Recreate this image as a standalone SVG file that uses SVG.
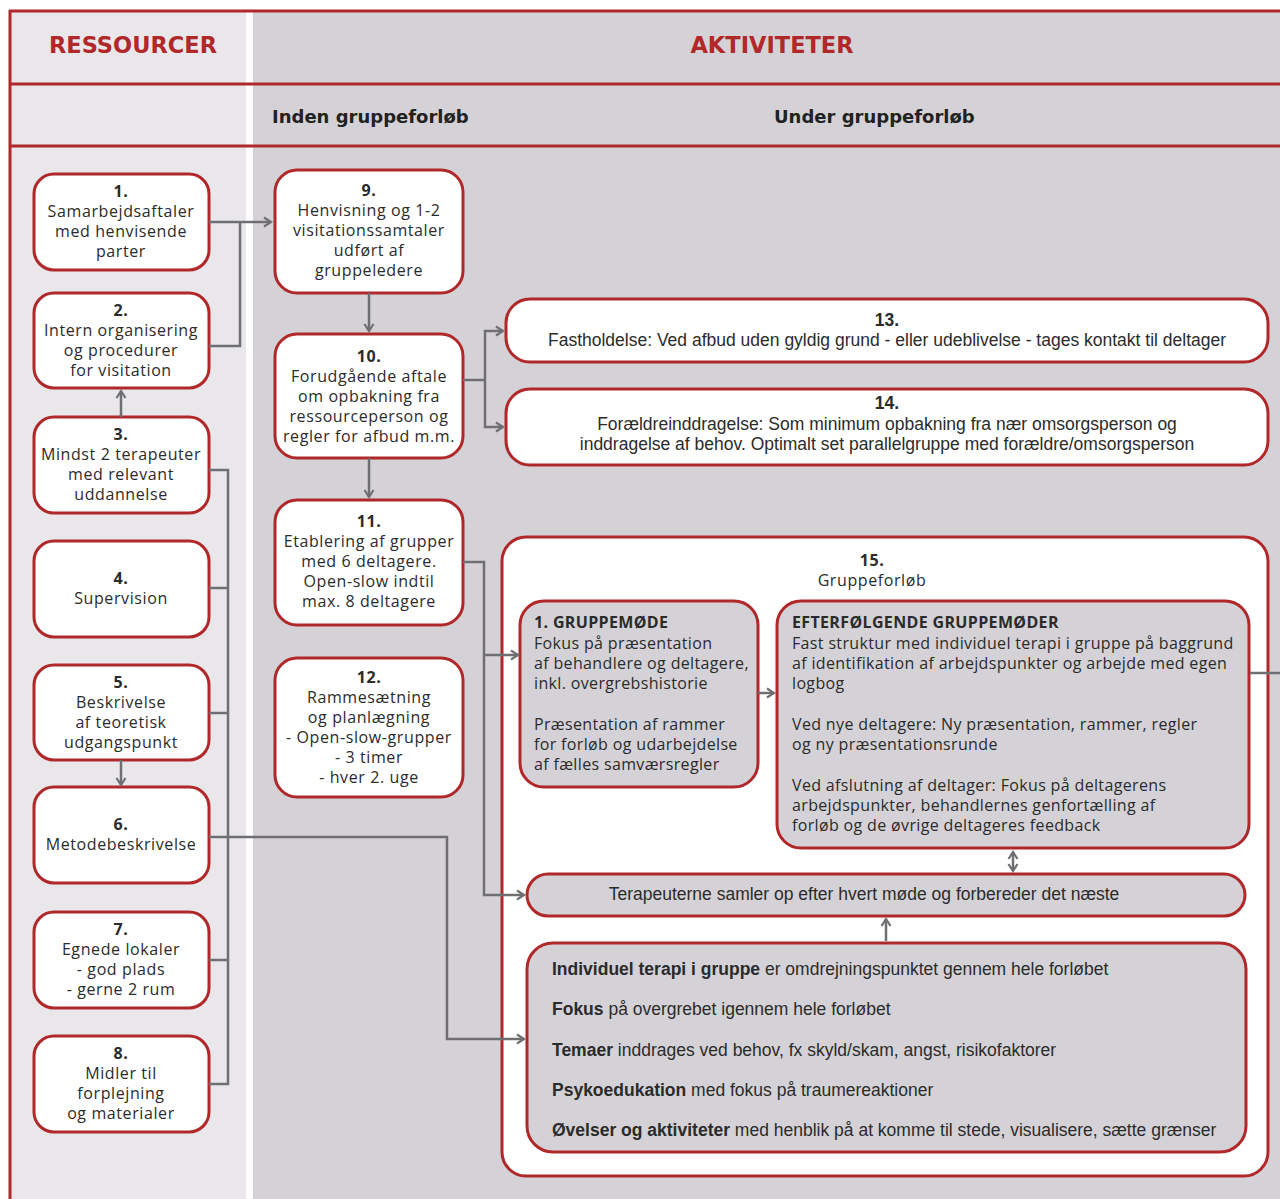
<svg xmlns="http://www.w3.org/2000/svg" width="1280" height="1199" viewBox="0 0 1280 1199">
<style>
.box{fill:#ffffff;stroke:#b0282a;stroke-width:3}
.gbox{fill:#d4d2d6;stroke:#b0282a;stroke-width:3}
.t{font-family:"Open Sans","DejaVu Sans",sans-serif;font-size:16px;letter-spacing:0.6px;fill:#2b2b2b;text-anchor:middle}
.tl{font-family:"Open Sans","DejaVu Sans",sans-serif;font-size:16px;letter-spacing:0.35px;fill:#2b2b2b}
.c{font-family:"Liberation Sans",Arial,sans-serif;font-size:17.5px;fill:#2b2b2b}
.cm{font-family:"Liberation Sans",Arial,sans-serif;font-size:17.5px;fill:#2b2b2b;text-anchor:middle}
.b{font-weight:bold}
.hd{font-family:"DejaVu Sans",sans-serif;font-weight:bold;font-size:22.5px;fill:#b0282a;text-anchor:middle}
.sh{font-family:"DejaVu Sans",sans-serif;font-weight:bold;font-size:18px;fill:#222}
.con{fill:none;stroke:#6f6f73;stroke-width:2.5}
.line{stroke:#b0282a;stroke-width:3}
</style>
<defs>
<marker id="arr" markerUnits="userSpaceOnUse" markerWidth="10" markerHeight="12" refX="8" refY="6" orient="auto-start-reverse">
<path d="M1,1.5 L8,6 L1,10.5" fill="none" stroke="#6f6f73" stroke-width="2.2"/>
</marker>
</defs>

<g id="background">
<rect x="0" y="0" width="1280" height="1199" fill="#ffffff"/>
<rect x="9" y="10" width="237" height="1189" fill="#e9e7ea"/>
<rect x="253" y="10" width="1027" height="1189" fill="#d4d2d6"/>
<line class="line" x1="9" y1="11" x2="1280" y2="11"/>
<line class="line" x1="9" y1="84" x2="1280" y2="84"/>
<line class="line" x1="9" y1="146" x2="1280" y2="146"/>
<line class="line" x1="10" y1="10" x2="10" y2="1199"/>
<text class="hd" x="133" y="53">RESSOURCER</text>
<text class="hd" x="772" y="53">AKTIVITETER</text>
<text class="sh" x="272" y="123">Inden gruppeforløb</text>
<text class="sh" x="774" y="123">Under gruppeforløb</text>
</g>

<g id="n1"><rect class="box" x="34" y="174" width="175" height="96" rx="20"/>
<text class="t"><tspan class="b" x="121" y="197">1.</tspan><tspan x="121" y="217">Samarbejdsaftaler</tspan><tspan x="121" y="237">med henvisende</tspan><tspan x="121" y="257">parter</tspan></text></g>

<g id="n2"><rect class="box" x="34" y="293" width="175" height="95" rx="20"/>
<text class="t"><tspan class="b" x="121" y="316">2.</tspan><tspan x="121" y="336">Intern organisering</tspan><tspan x="121" y="356">og procedurer</tspan><tspan x="121" y="376">for visitation</tspan></text></g>

<g id="n3"><rect class="box" x="34" y="417" width="175" height="96" rx="20"/>
<text class="t"><tspan class="b" x="121" y="440">3.</tspan><tspan x="121" y="460">Mindst 2 terapeuter</tspan><tspan x="121" y="480">med relevant</tspan><tspan x="121" y="500">uddannelse</tspan></text></g>

<g id="n4"><rect class="box" x="34" y="541" width="175" height="96" rx="20"/>
<text class="t"><tspan class="b" x="121" y="584">4.</tspan><tspan x="121" y="604">Supervision</tspan></text></g>

<g id="n5"><rect class="box" x="34" y="665" width="175" height="95" rx="20"/>
<text class="t"><tspan class="b" x="121" y="688">5.</tspan><tspan x="121" y="708">Beskrivelse</tspan><tspan x="121" y="728">af teoretisk</tspan><tspan x="121" y="748">udgangspunkt</tspan></text></g>

<g id="n6"><rect class="box" x="34" y="787" width="175" height="96" rx="20"/>
<text class="t"><tspan class="b" x="121" y="830">6.</tspan><tspan x="121" y="850">Metodebeskrivelse</tspan></text></g>

<g id="n7"><rect class="box" x="34" y="912" width="175" height="96" rx="20"/>
<text class="t"><tspan class="b" x="121" y="935">7.</tspan><tspan x="121" y="955">Egnede lokaler</tspan><tspan x="121" y="975">- god plads</tspan><tspan x="121" y="995">- gerne 2 rum</tspan></text></g>

<g id="n8"><rect class="box" x="34" y="1036" width="175" height="96" rx="20"/>
<text class="t"><tspan class="b" x="121" y="1059">8.</tspan><tspan x="121" y="1079">Midler til</tspan><tspan x="121" y="1099">forplejning</tspan><tspan x="121" y="1119">og materialer</tspan></text></g>

<g id="n9"><rect class="box" x="275" y="170" width="188" height="123" rx="22"/>
<text class="t"><tspan class="b" x="369" y="196">9.</tspan><tspan x="369" y="216">Henvisning og 1-2</tspan><tspan x="369" y="236">visitationssamtaler</tspan><tspan x="369" y="256">udført af</tspan><tspan x="369" y="276">gruppeledere</tspan></text></g>

<g id="n10"><rect class="box" x="275" y="334" width="188" height="124" rx="22"/>
<text class="t"><tspan class="b" x="369" y="362">10.</tspan><tspan x="369" y="382">Forudgående aftale</tspan><tspan x="369" y="402">om opbakning fra</tspan><tspan x="369" y="422">ressourceperson og</tspan><tspan x="369" y="442">regler for afbud m.m.</tspan></text></g>

<g id="n11"><rect class="box" x="275" y="500" width="188" height="125" rx="22"/>
<text class="t"><tspan class="b" x="369" y="527">11.</tspan><tspan x="369" y="547">Etablering af grupper</tspan><tspan x="369" y="567">med 6 deltagere.</tspan><tspan x="369" y="587">Open-slow indtil</tspan><tspan x="369" y="607">max. 8 deltagere</tspan></text></g>

<g id="n12"><rect class="box" x="275" y="658" width="188" height="139" rx="22"/>
<text class="t"><tspan class="b" x="369" y="683">12.</tspan><tspan x="369" y="703">Rammesætning</tspan><tspan x="369" y="723">og planlægning</tspan><tspan x="369" y="743">- Open-slow-grupper</tspan><tspan x="369" y="763">- 3 timer</tspan><tspan x="369" y="783">- hver 2. uge</tspan></text></g>

<g id="n13"><rect class="box" x="506" y="299" width="762" height="63" rx="24"/>
<text class="cm"><tspan class="b" x="887" y="326">13.</tspan><tspan x="887" y="346">Fastholdelse: Ved afbud uden gyldig grund - eller udeblivelse - tages kontakt til deltager</tspan></text></g>

<g id="n14"><rect class="box" x="506" y="389" width="762" height="76" rx="24"/>
<text class="cm"><tspan class="b" x="887" y="409">14.</tspan><tspan x="887" y="430">Forældreinddragelse: Som minimum opbakning fra nær omsorgsperson og</tspan><tspan x="887" y="450">inddragelse af behov. Optimalt set parallelgruppe med forældre/omsorgsperson</tspan></text></g>

<g id="n15"><rect class="box" x="502" y="537" width="766" height="639" rx="24"/>
<text class="t"><tspan class="b" x="872" y="566">15.</tspan><tspan x="872" y="586">Gruppeforløb</tspan></text></g>

<g id="n15a"><rect class="gbox" x="520" y="601" width="238" height="186" rx="24"/>
<text class="tl"><tspan class="b" x="534" y="628">1. GRUPPEMØDE</tspan><tspan x="534" y="649">Fokus på præsentation</tspan><tspan x="534" y="669">af behandlere og deltagere,</tspan><tspan x="534" y="689">inkl. overgrebshistorie</tspan><tspan x="534" y="730">Præsentation af rammer</tspan><tspan x="534" y="750">for forløb og udarbejdelse</tspan><tspan x="534" y="770">af fælles samværsregler</tspan></text></g>

<g id="n15b"><rect class="gbox" x="777" y="601" width="472" height="247" rx="24"/>
<text class="tl"><tspan class="b" x="792" y="628">EFTERFØLGENDE GRUPPEMØDER</tspan><tspan x="792" y="649">Fast struktur med individuel terapi i gruppe på baggrund</tspan><tspan x="792" y="669">af identifikation af arbejdspunkter og arbejde med egen</tspan><tspan x="792" y="689">logbog</tspan><tspan x="792" y="730">Ved nye deltagere: Ny præsentation, rammer, regler</tspan><tspan x="792" y="750">og ny præsentationsrunde</tspan><tspan x="792" y="791">Ved afslutning af deltager: Fokus på deltagerens</tspan><tspan x="792" y="811">arbejdspunkter, behandlernes genfortælling af</tspan><tspan x="792" y="831">forløb og de øvrige deltageres feedback</tspan></text></g>

<g id="n15c"><rect class="gbox" x="527" y="874" width="718" height="42" rx="21"/>
<text class="cm" x="864" y="900">Terapeuterne samler op efter hvert møde og forbereder det næste</text></g>

<g id="n15d"><rect class="gbox" x="527" y="943" width="719" height="209" rx="26"/>
<text class="c" x="552" y="975"><tspan class="b">Individuel terapi i gruppe</tspan> er omdrejningspunktet gennem hele forløbet</text>
<text class="c" x="552" y="1015"><tspan class="b">Fokus</tspan> på overgrebet igennem hele forløbet</text>
<text class="c" x="552" y="1056"><tspan class="b">Temaer</tspan> inddrages ved behov, fx skyld/skam, angst, risikofaktorer</text>
<text class="c" x="552" y="1096"><tspan class="b">Psykoedukation</tspan> med fokus på traumereaktioner</text>
<text class="c" x="552" y="1136"><tspan class="b">Øvelser og aktiviteter</tspan> med henblik på at komme til stede, visualisere, sætte grænser</text></g>

<g id="connectors">
<path class="con" d="M209,222 H271" marker-end="url(#arr)"/>
<path class="con" d="M209,346 H240 V222"/>
<path class="con" d="M121,417 V391" marker-end="url(#arr)"/>
<path class="con" d="M369,293 V331" marker-end="url(#arr)"/>
<path class="con" d="M369,458 V497" marker-end="url(#arr)"/>
<path class="con" d="M463,380 H485"/>
<path class="con" d="M485,380 V331 H503" marker-end="url(#arr)"/>
<path class="con" d="M485,380 V427 H503" marker-end="url(#arr)"/>
<path class="con" d="M121,760 V785" marker-end="url(#arr)"/>
<path class="con" d="M209,470 H228 V1084 H209"/>
<path class="con" d="M209,588 H228"/>
<path class="con" d="M209,713 H228"/>
<path class="con" d="M209,960 H228"/>
<path class="con" d="M209,837 H447 V1039 H524" marker-end="url(#arr)"/>
<path class="con" d="M463,562 H484 V895 H524" marker-end="url(#arr)"/>
<path class="con" d="M484,655 H518" marker-end="url(#arr)"/>
<path class="con" d="M758,693 H774" marker-end="url(#arr)"/>
<path class="con" d="M1013,852 V871" marker-start="url(#arr)" marker-end="url(#arr)"/>
<path class="con" d="M886,941 V919" marker-end="url(#arr)"/>
<path class="con" d="M1250,673 H1280"/>
</g>
</svg>
